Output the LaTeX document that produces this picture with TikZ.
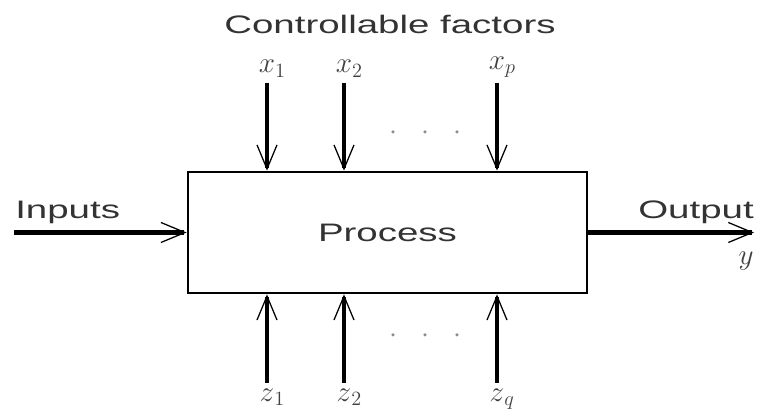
\documentclass[tikz,border=0pt]{standalone}
\usepackage{fontspec}
\setmainfont{Liberation Sans}
\usepackage{graphicx}
\usetikzlibrary{arrows.meta, positioning}

\newcommand{\widetext}[1]{\scalebox{1.52}[1]{#1}}

\begin{document}
\begin{tikzpicture}[
    txt/.style={font=\fontsize{18}{20}\selectfont, text=black!80, inner sep=0pt},
    var/.style={font=\fontsize{22}{24}\selectfont, text=black!75, inner sep=0pt, outer sep=4pt},
    procbox/.style={draw, line width=2pt, minimum width=9.975cm, minimum height=3.025cm, inner sep=0pt},
    flow/.style={line width=3.4pt, -{Straight Barb[length=6mm, width=5mm, line width=0.9pt]}},
    dot/.style={circle, fill=black!45, inner sep=0pt, minimum size=2.5pt},
]
    \useasboundingbox (0,0) rectangle (18.95,10.375);
    \node[procbox] (box) at (9.6875,4.5625) {};
    \node[txt] (process) at (box.center) {\widetext{Process}};
    \node[txt] (ctrl) at (9.75,9.775) {\widetext{Controllable factors}};
    \node[txt, anchor=west] (inputs) at (0.375,5.075) {\widetext{Inputs}};
    \node[txt, anchor=west] (output) at (15.95,5.075) {\widetext{Output}};
    \node[var] (y) at (18.65,3.85) {$y$};
    \coordinate (in) at (0.35,4.5625);
    \coordinate (out) at (18.85,4.5625);
    \draw[flow] (in) -- (box.west);
    \draw[flow] (box.east) -- (out);
    % controllable factors
    \foreach \name/\col/\sub in {x1/6.675/1, x2/8.6/2, xp/12.425/p} {
        \node[var, anchor=south] (\name) at (\col,8.3) {$x\rlap{$_{\sub}$}$};
        \draw[flow] (\name.south) -- (\name.south |- box.north);
    }
    % uncontrollable factors
    \foreach \name/\col/\sub in {z1/6.675/1, z2/8.6/2, zq/12.425/q} {
        \node[var, anchor=north] (\name) at (\col,0.8) {$z\rlap{$_{\sub}$}$};
        \draw[flow] (\name.north) -- (\name.north |- box.south);
    }
    \foreach \dx in {9.825,10.625,11.425} {
        \node[dot] at (\dx,7.075) {};
        \node[dot] at (\dx,2.0) {};
    }
\end{tikzpicture}
\end{document}
